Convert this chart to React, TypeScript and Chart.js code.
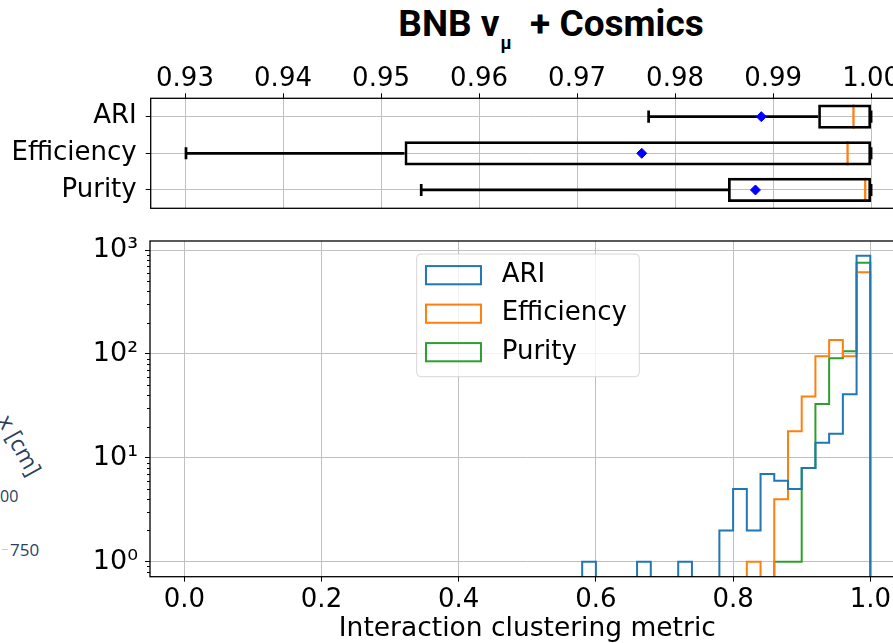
import React, { useEffect, useRef } from 'react';
import { Chart, registerables } from 'chart.js';

Chart.register(...registerables);

// ---- metrics shared by both panels ----
const METRICS = ['ARI', 'Efficiency', 'Purity'];
const METRIC_COLORS = ['#1f77b4', '#ff7f0e', '#2ca02c'];

// ---- box-plot summaries (upper panel) ----
const WHISKER_LO = [0.9773, 0.9301, 0.9541];
const Q1 = [0.9946, 0.9524, 0.9854];
const MEDIANS = [0.9982, 0.9976, 0.9994];
const Q3 = [1.0, 1.0, 1.0];
const WHISKER_HI = [1.0, 1.0, 1.0];
const MEANS = [0.9888, 0.9766, 0.9882];
const BOX_X_TICKS = [0.93, 0.94, 0.95, 0.96, 0.97, 0.98, 0.99, 1.0];

// ---- histogram counts (lower panel): 50 bins of width 0.02 over [0, 1] ----
const BIN_START = 0;
const BIN_WIDTH = 0.02;
const ARI_COUNTS = [
  0, 0, 0, 0, 0, 0, 0, 0, 0, 0,
  0, 0, 0, 0, 0, 0, 0, 0, 0, 0,
  0, 0, 0, 0, 0, 0, 0, 0, 0, 1,
  0, 0, 0, 1, 0, 0, 1, 0, 0, 2,
  5, 2, 7, 6, 5, 8, 14, 17, 41, 881,
];
const EFFICIENCY_COUNTS = [
  0, 0, 0, 0, 0, 0, 0, 0, 0, 0,
  0, 0, 0, 0, 0, 0, 0, 0, 0, 0,
  0, 0, 0, 0, 0, 0, 0, 0, 0, 0,
  0, 0, 0, 0, 0, 0, 0, 0, 0, 0,
  0, 1, 0, 4, 18, 39, 95, 136, 95, 610,
];
const PURITY_COUNTS = [
  0, 0, 0, 0, 0, 0, 0, 0, 0, 0,
  0, 0, 0, 0, 0, 0, 0, 0, 0, 0,
  0, 0, 0, 0, 0, 0, 0, 0, 0, 0,
  0, 0, 0, 0, 0, 0, 0, 0, 0, 0,
  0, 0, 0, 1, 1, 8, 33, 91, 106, 755,
];
const HIST_X_TICKS = [0, 0.2, 0.4, 0.6, 0.8, 1.0];
const HIST_Y_TICKS = [1, 10, 100, 1000];

// ---- styling ----
const FONT = 'DejaVu Sans';
const GRID = '#c0c0c0';
const BOX_FRAC = 0.66; // box thickness as a share of the category band
const CAP_FRAC = 0.33; // whisker cap length as a share of the category band
const EMPTY_BIN = 1e-3; // empty bins fall below the log axis and get clipped
const SUPERSCRIPT: Record<string, string> = { '-': '⁻', '0': '⁰', '1': '¹', '2': '²', '3': '³', '4': '⁴' };

const fixTicks = (values: number[]) => (scale: any) => {
  scale.ticks = values.map((value) => ({ value }));
};

// outline of a step histogram as a polyline through the bin edges
function stepOutline(counts: number[]) {
  const pts: { x: number; y: number }[] = [{ x: BIN_START, y: EMPTY_BIN }];
  counts.forEach((c, i) => {
    const y = c > 0 ? c : EMPTY_BIN;
    pts.push({ x: BIN_START + i * BIN_WIDTH, y });
    pts.push({ x: BIN_START + (i + 1) * BIN_WIDTH, y });
  });
  pts.push({ x: BIN_START + counts.length * BIN_WIDTH, y: EMPTY_BIN });
  return pts;
}

const axesFrame = {
  id: 'axesFrame',
  afterDraw(chart: any) {
    const { ctx, chartArea: a } = chart;
    ctx.save();
    ctx.strokeStyle = '#000';
    ctx.lineWidth = 1.3;
    ctx.strokeRect(a.left, a.top, a.right - a.left, a.bottom - a.top);
    ctx.restore();
  },
};

// whiskers, caps and medians of the box plots
const boxParts = {
  id: 'boxParts',
  beforeDatasetsDraw(chart: any) {
    const { ctx } = chart;
    const x = chart.scales.x;
    const y = chart.scales.y;
    const band = Math.abs(y.getPixelForValue(1) - y.getPixelForValue(0));
    ctx.save();
    METRICS.forEach((_, i) => {
      const yc = y.getPixelForValue(i);
      const lo = x.getPixelForValue(WHISKER_LO[i]);
      const hi = x.getPixelForValue(WHISKER_HI[i]);
      const capH = (band * CAP_FRAC) / 2;
      ctx.strokeStyle = '#000';
      ctx.lineWidth = 2.7;
      ctx.beginPath();
      ctx.moveTo(lo, yc);
      ctx.lineTo(x.getPixelForValue(Q1[i]), yc);
      ctx.moveTo(x.getPixelForValue(Q3[i]), yc);
      ctx.lineTo(hi, yc);
      ctx.moveTo(lo, yc - capH);
      ctx.lineTo(lo, yc + capH);
      ctx.moveTo(hi, yc - capH);
      ctx.lineTo(hi, yc + capH);
      ctx.stroke();
      const boxH = (band * BOX_FRAC) / 2;
      const mx = x.getPixelForValue(MEDIANS[i]);
      ctx.strokeStyle = '#ff7f0e';
      ctx.lineWidth = 2.3;
      ctx.beginPath();
      ctx.moveTo(mx, yc - boxH);
      ctx.lineTo(mx, yc + boxH);
      ctx.stroke();
    });
    ctx.restore();
  },
};

// minor ticks on the logarithmic count axis
const logMinorTicks = {
  id: 'logMinorTicks',
  afterDraw(chart: any) {
    const { ctx, chartArea: a } = chart;
    const y = chart.scales.y;
    ctx.save();
    ctx.strokeStyle = '#000';
    ctx.lineWidth = 1;
    ctx.beginPath();
    for (let e = -1; e <= 3; e++) {
      for (let m = 2; m <= 9; m++) {
        const v = m * Math.pow(10, e);
        if (v < y.min || v > y.max) continue;
        const py = Math.round(y.getPixelForValue(v)) + 0.5;
        ctx.moveTo(a.left - 3, py);
        ctx.lineTo(a.left, py);
      }
    }
    ctx.stroke();
    ctx.restore();
  },
};

// legend box inside the histogram axes
const histLegend = {
  id: 'histLegend',
  afterDatasetsDraw(chart: any) {
    const { ctx, chartArea: a } = chart;
    const left = a.left + (a.right - a.left) * 0.3534;
    const top = a.top + (a.bottom - a.top) * 0.0387;
    ctx.save();
    ctx.beginPath();
    ctx.roundRect(left, top, 222.6, 122.7, 4);
    ctx.fillStyle = 'rgba(255,255,255,0.8)';
    ctx.fill();
    ctx.strokeStyle = 'rgba(204,204,204,0.8)';
    ctx.lineWidth = 1;
    ctx.stroke();
    chart.data.datasets.forEach((ds: any, i: number) => {
      const cy = top + 21.2 + i * 38.5;
      ctx.strokeStyle = ds.borderColor;
      ctx.lineWidth = 2;
      ctx.strokeRect(left + 9.3, cy - 9.1, 55, 18.2);
      ctx.fillStyle = '#000';
      ctx.font = `26px "${FONT}"`;
      ctx.textBaseline = 'middle';
      ctx.textAlign = 'left';
      ctx.fillText(ds.label, left + 85, cy);
    });
    ctx.restore();
  },
};

const tickFont = { family: FONT, size: 26, lineHeight: 1.2 };

export default function App() {
  const boxRef = useRef<HTMLCanvasElement>(null);
  const histRef = useRef<HTMLCanvasElement>(null);

  useEffect(() => {
    const boxChart = new Chart(boxRef.current as HTMLCanvasElement, {
      type: 'bar',
      data: {
        labels: METRICS,
        datasets: [
          {
            type: 'scatter',
            data: MEANS.map((m, i) => ({ x: m, y: METRICS[i] })) as any,
            pointStyle: 'rectRot',
            pointRadius: 5,
            backgroundColor: '#0000ff',
            borderColor: '#0000ff',
            borderWidth: 1,
            order: 0,
          } as any,
          {
            type: 'bar',
            indexAxis: 'y',
            data: METRICS.map((_, i) => [Q1[i], Q3[i]]) as any,
            backgroundColor: 'rgba(0,0,0,0)',
            borderColor: '#000',
            borderWidth: 2.7,
            borderSkipped: false,
            inflateAmount: 0,
            categoryPercentage: BOX_FRAC,
            barPercentage: 1,
            order: 1,
          } as any,
        ],
      },
      options: {
        responsive: false,
        animation: false,
        layout: { padding: { left: 0, top: 0, right: 920 - 905.4, bottom: 240 - 208.3 } },
        plugins: { legend: { display: false }, tooltip: { enabled: false } },
        scales: {
          x: {
            type: 'linear',
            position: 'top',
            min: 0.9265,
            max: 1.0035,
            bounds: 'data',
            offset: false,
            afterBuildTicks: fixTicks(BOX_X_TICKS),
            afterFit: (s: any) => { s.height = 98.3; },
            ticks: { callback: (v: any) => Number(v).toFixed(2), font: tickFont, color: '#000', padding: -2, maxRotation: 0, autoSkip: false },
            grid: { offset: false, color: GRID, lineWidth: 1, tickColor: '#000', tickLength: 5 },
            border: { display: false },
          },
          y: {
            type: 'category',
            labels: METRICS,
            offset: true,
            afterFit: (s: any) => { s.width = 150.7; },
            ticks: { font: tickFont, color: '#000', padding: 9, autoSkip: false },
            grid: { offset: false, color: GRID, lineWidth: 1, tickColor: '#000', tickLength: 5 },
            border: { display: false },
          },
        },
      } as any,
      plugins: [boxParts, axesFrame],
    });

    const series = [ARI_COUNTS, EFFICIENCY_COUNTS, PURITY_COUNTS];
    const histChart = new Chart(histRef.current as HTMLCanvasElement, {
      type: 'line',
      data: {
        datasets: series.map((counts, i) => ({
          label: METRICS[i],
          data: stepOutline(counts),
          borderColor: METRIC_COLORS[i],
          borderWidth: 2,
          pointRadius: 0,
          fill: false,
          tension: 0,
          clip: 0,
        })) as any,
      },
      options: {
        responsive: false,
        animation: false,
        layout: { padding: { left: 0, top: 24, right: 920 - 904.6, bottom: 0 } },
        plugins: { legend: { display: false }, tooltip: { enabled: false } },
        scales: {
          x: {
            type: 'linear',
            min: -0.05,
            max: 1.05,
            bounds: 'data',
            afterBuildTicks: fixTicks(HIST_X_TICKS),
            afterFit: (s: any) => { s.height = 66.3; },
            ticks: { callback: (v: any) => Number(v).toFixed(1), font: tickFont, color: '#000', padding: 3, maxRotation: 0, autoSkip: false },
            grid: { color: GRID, lineWidth: 1, tickColor: '#000', tickLength: 5 },
            border: { display: false },
            title: {
              display: true,
              text: 'Interaction clustering metric',
              font: { family: FONT, size: 26.5, lineHeight: 1.05 },
              color: '#000',
              padding: 0,
            },
          },
          y: {
            type: 'logarithmic',
            min: 0.717,
            max: 1222,
            bounds: 'data',
            afterBuildTicks: fixTicks(HIST_Y_TICKS),
            afterFit: (s: any) => { s.width = 150; },
            ticks: {
              callback: (v: any) => '10' + String(Math.round(Math.log10(Number(v)))).split('').map((c) => SUPERSCRIPT[c]).join(''),
              font: { family: FONT, size: 27, lineHeight: 1.2 },
              color: '#000',
              padding: 7,
              autoSkip: false,
            },
            grid: { color: GRID, lineWidth: 1, tickColor: '#000', tickLength: 5 },
            border: { display: false },
          },
        },
      } as any,
      plugins: [logMinorTicks, histLegend, axesFrame],
    });

    return () => {
      boxChart.destroy();
      histChart.destroy();
    };
  }, []);

  const sideText = { position: 'absolute' as const, color: '#2a3f5f', fontFamily: '"Open Sans"', whiteSpace: 'nowrap' as const, lineHeight: 1 };

  return (
    <div style={{ position: 'fixed', left: 0, top: 0, width: 893, height: 643, overflow: 'hidden', background: '#fff' }}>
      <div
        style={{
          position: 'absolute',
          left: 551,
          top: 5,
          transform: 'translateX(-50%)',
          fontFamily: 'Roboto',
          fontWeight: 700,
          fontSize: 37,
          lineHeight: '37px',
          whiteSpace: 'nowrap',
          color: '#000',
        }}
      >
        BNB ν<span style={{ fontSize: 18, position: 'relative', top: 13, marginLeft: 1 }}>μ</span>&nbsp; + Cosmics
      </div>

      <div style={{ ...sideText, left: 20, top: 445, fontSize: 23, transform: 'translate(-50%, -50%) rotate(61deg)' }}>x [cm]</div>
      <div style={{ ...sideText, left: 0, top: 488, fontSize: 16 }}>00</div>
      <div style={{ position: 'absolute', left: 2, top: 549, width: 6, height: 1, background: '#c5cad3' }} />
      <div style={{ ...sideText, left: 10, top: 541, fontSize: 17 }}>750</div>

      <canvas ref={boxRef} width={920} height={240} style={{ position: 'absolute', left: 0, top: 0 }} />
      <canvas ref={histRef} width={920} height={426} style={{ position: 'absolute', left: 0, top: 217 }} />
    </div>
  );
}
